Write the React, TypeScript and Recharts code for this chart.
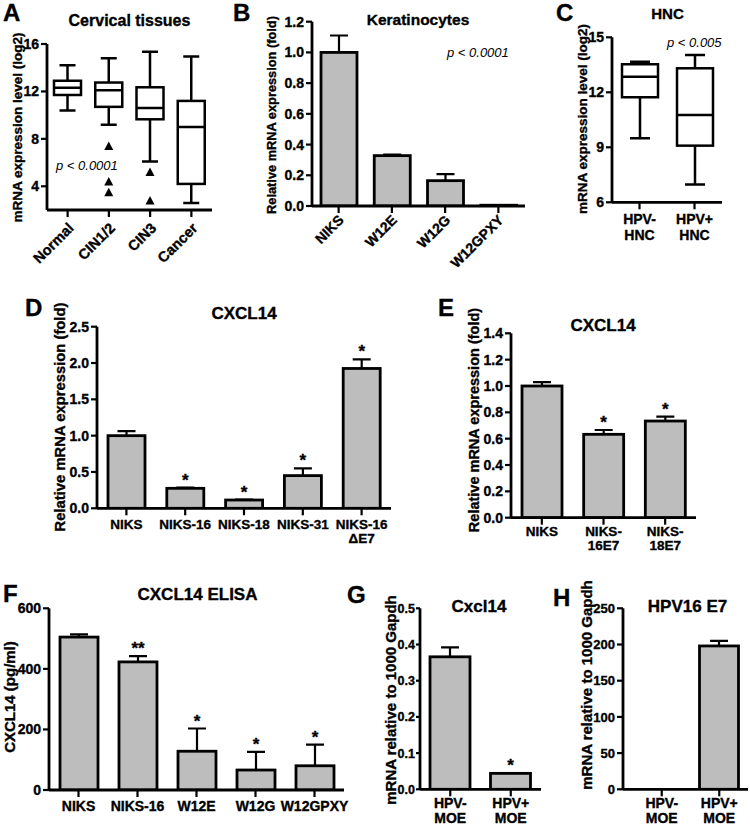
import React from 'react';
import { BarChart, Bar, XAxis, YAxis } from 'recharts';

const FONT = '"Liberation Sans", Arial, Helvetica, sans-serif';
const GRAY = '#bdbdbd';
const W = 750;
const H = 827;

// ---------- Panel A: Cervical tissues (box plot) ----------
const cervicalCats = ['Normal', 'CIN1/2', 'CIN3', 'Cancer'];
const cervicalMin = [10.4, 9.2, 6.1, 2.6];
const cervicalQ1 = [11.7, 10.7, 9.65, 4.2];
const cervicalMedian = [12.3, 12.1, 10.6, 9.0];
const cervicalQ3 = [12.9, 12.75, 12.35, 11.2];
const cervicalMax = [14.2, 14.8, 15.35, 14.95];
const cervicalOutliers = [[], [7.4, 4.4, 3.5], [5.2, 2.8], []];
const cervicalTicks = [4, 8, 12, 16];

// ---------- Panel B: Keratinocytes ----------
const keraCats = ['NIKS', 'W12E', 'W12G', 'W12GPXY'];
const keraMean = [1.0, 0.328, 0.165, 0.005];
const keraErr = [0.11, 0.007, 0.043, 0];
const keraTicks = [0, 0.2, 0.4, 0.6, 0.8, 1.0, 1.2];

// ---------- Panel C: HNC (box plot) ----------
const hncCats = ['HPV-\nHNC', 'HPV+\nHNC'];
const hncMin = [9.5, 6.97];
const hncQ1 = [11.73, 9.09];
const hncMedian = [12.85, 10.76];
const hncQ3 = [13.53, 13.31];
const hncMax = [13.67, 14.03];
const hncTicks = [6, 9, 12, 15];

// ---------- Panel D: CXCL14 ----------
const dCats = ['NIKS', 'NIKS-16', 'NIKS-18', 'NIKS-31', 'NIKS-16\n\u0394E7'];
const dMean = [1.0, 0.275, 0.114, 0.45, 1.925];
const dErr = [0.063, 0.01, 0.005, 0.1, 0.125];
const dStars = ['', '*', '*', '*', '*'];
const dTicks = [0, 0.5, 1.0, 1.5, 2.0, 2.5];

// ---------- Panel E: CXCL14 ----------
const eCats = ['NIKS', 'NIKS-\n16E7', 'NIKS-\n18E7'];
const eMean = [1.0, 0.633, 0.734];
const eErr = [0.03, 0.033, 0.033];
const eStars = ['', '*', '*'];
const eTicks = [0, 0.2, 0.4, 0.6, 0.8, 1.0, 1.2, 1.4];

// ---------- Panel F: CXCL14 ELISA ----------
const fCats = ['NIKS', 'NIKS-16', 'W12E', 'W12G', 'W12GPXY'];
const fMean = [505, 423, 128, 66, 80];
const fErr = [9, 19, 75, 60, 70];
const fStars = ['', '**', '*', '*', '*'];
const fTicks = [0, 200, 400, 600];

// ---------- Panel G: Cxcl14 ----------
const moeCats = ['HPV-\nMOE', 'HPV+\nMOE'];
const gMean = [0.366, 0.044];
const gErr = [0.026, 0];
const gStars = ['', '*'];
const gTicks = [0, 0.1, 0.2, 0.3, 0.4, 0.5];

// ---------- Panel H: HPV16 E7 ----------
const hMean = [0, 198];
const hErr = [0, 7];
const hStars = ['', ''];
const hTicks = [0, 50, 100, 150, 200, 250];

const barRows = (cats: string[], mean: number[], err: number[], stars: string[]) =>
  cats.map((name, i) => ({ name, mean: mean[i], err: err[i], star: stars[i] }));

const boxRows = (cats: string[], mn: number[], q1: number[], med: number[], q3: number[], mx: number[], out: number[][]) =>
  cats.map((name, i) => ({ name, box: [q1[i], q3[i]], q1: q1[i], q3: q3[i], min: mn[i], med: med[i], max: mx[i], outliers: out[i] }));

const dataA = boxRows(cervicalCats, cervicalMin, cervicalQ1, cervicalMedian, cervicalQ3, cervicalMax, cervicalOutliers);
const dataB = barRows(keraCats, keraMean, keraErr, ['', '', '', '']);
const dataC = boxRows(hncCats, hncMin, hncQ1, hncMedian, hncQ3, hncMax, [[], []]);
const dataD = barRows(dCats, dMean, dErr, dStars);
const dataE = barRows(eCats, eMean, eErr, eStars);
const dataF = barRows(fCats, fMean, fErr, fStars);
const dataG = barRows(moeCats, gMean, gErr, gStars);
const dataH = barRows(moeCats, hMean, hErr, hStars);

const BOLD_STROKE = { stroke: '#000', strokeWidth: 0.35 };

const makeBarShape = (capW: number) => (props: any) => {
  const { x, y, width, height } = props;
  const p = props.payload ?? props;
  const v = p.mean;
  const top = Math.min(y, y + height);
  const h = Math.abs(height);
  const ratio = v > 0 ? h / v : 0;
  const errTop = top - p.err * ratio;
  const cx = x + width / 2;
  return (
    <g>
      {p.err > 0 && (
        <g>
          <line x1={cx} x2={cx} y1={top} y2={errTop} stroke="#000" strokeWidth={2.2} />
          <line x1={cx - capW / 2} x2={cx + capW / 2} y1={errTop} y2={errTop} stroke="#000" strokeWidth={2.2} />
        </g>
      )}
      {v > 0 && <rect x={x} y={top} width={width} height={h} fill={GRAY} stroke="#000" strokeWidth={2.8} />}
      {p.star ? (
        <text x={cx} y={errTop - 2} textAnchor="middle" fontFamily={FONT} fontWeight="bold" fontSize={17} fill="#000" {...BOLD_STROKE}>
          {p.star}
        </text>
      ) : null}
    </g>
  );
};

const makeBoxShape = (capW: number) => (props: any) => {
  const { x, y, width, height } = props;
  const p = props.payload ?? props;
  const top = Math.min(y, y + height);
  const h = Math.abs(height);
  const ratio = h / (p.q3 - p.q1);
  const py = (v: number) => top + (p.q3 - v) * ratio;
  const cx = x + width / 2;
  const sw = 2.5;
  return (
    <g>
      <line x1={cx} x2={cx} y1={py(p.max)} y2={top} stroke="#000" strokeWidth={sw} />
      <line x1={cx} x2={cx} y1={top + h} y2={py(p.min)} stroke="#000" strokeWidth={sw} />
      <line x1={cx - capW / 2} x2={cx + capW / 2} y1={py(p.max)} y2={py(p.max)} stroke="#000" strokeWidth={sw} />
      <line x1={cx - capW / 2} x2={cx + capW / 2} y1={py(p.min)} y2={py(p.min)} stroke="#000" strokeWidth={sw} />
      <rect x={x} y={top} width={width} height={h} fill="#fff" stroke="#000" strokeWidth={sw} />
      <line x1={x} x2={x + width} y1={py(p.med)} y2={py(p.med)} stroke="#000" strokeWidth={sw} />
      {(p.outliers || []).map((o: number, i: number) => {
        const oy = py(o);
        return <path key={i} d={`M${cx - 4.5},${oy + 4} L${cx + 4.5},${oy + 4} L${cx},${oy - 4.5} Z`} fill="#000" />;
      })}
    </g>
  );
};

const makeRotTick = (axisY: number, dx: number, dy: number, fs: number) => (props: any) => {
  const tx = props.x + dx;
  const ty = axisY + dy;
  return (
    <text x={tx} y={ty} transform={`rotate(-45 ${tx} ${ty})`} textAnchor="end" fontFamily={FONT} fontWeight="bold" fontSize={fs} fill="#000" {...BOLD_STROKE}>
      {props.payload.value}
    </text>
  );
};

const makeLinesTick = (axisY: number, base: number, lh: number, fs: number) => (props: any) => {
  const lines = String(props.payload.value).split('\n');
  return (
    <text x={props.x} y={axisY + base} textAnchor="middle" fontFamily={FONT} fontWeight="bold" fontSize={fs} fill="#000" {...BOLD_STROKE}>
      {lines.map((l, i) => (
        <tspan key={i} x={props.x} dy={i ? lh : 0}>
          {l}
        </tspan>
      ))}
    </text>
  );
};

type Plot = { left: number; right: number; top: number; bottom: number };

function Panel(props: {
  plot: Plot;
  data: any[];
  dataKey: string;
  shape: any;
  barSize: number;
  domain: [number, number];
  ticks: number[];
  fmt?: (v: number) => string;
  xTick: any;
  padding?: { left: number; right: number };
  yFont?: number;
  yTickSize?: number;
  yTickMargin?: number;
}) {
  const { plot, data, dataKey, shape, barSize, domain, ticks, fmt, xTick, padding, yFont, yTickSize, yTickMargin } = props;
  const yw = 50;
  const xh = 40;
  const axisStyle = { stroke: '#000', strokeWidth: 2.8 };
  const tickLineStyle = { stroke: '#000', strokeWidth: 2.2 };
  return (
    <div style={{ position: 'absolute', left: 0, top: 0 }}>
      <BarChart
        width={W}
        height={H}
        data={data}
        margin={{ top: plot.top, left: plot.left - yw, right: W - plot.right, bottom: H - plot.bottom - xh }}
        barCategoryGap={0}
      >
        <XAxis
          dataKey="name"
          interval={0}
          height={xh}
          tick={xTick}
          tickSize={7}
          tickLine={tickLineStyle}
          axisLine={axisStyle}
          padding={padding || { left: 0, right: 0 }}
        />
        <YAxis
          type="number"
          domain={domain}
          ticks={ticks}
          interval={0}
          allowDataOverflow
          width={yw}
          tickSize={yTickSize ?? 6}
          tickMargin={yTickMargin ?? 2}
          tickLine={tickLineStyle}
          axisLine={axisStyle}
          tickFormatter={fmt}
          tick={{ fill: '#000', fontSize: yFont || 14, fontWeight: 'bold', fontFamily: FONT, ...BOLD_STROKE }}
        />
        <Bar dataKey={dataKey} barSize={barSize} shape={shape} isAnimationActive={false} />
      </BarChart>
    </div>
  );
}

const f1 = (v: number) => v.toFixed(1);

const pA: Plot = { left: 47, right: 212, top: 44, bottom: 210 };
const pB: Plot = { left: 312, right: 525, top: 21.7, bottom: 206 };
const pC: Plot = { left: 612, right: 722, top: 37.3, bottom: 202.3 };
const pD: Plot = { left: 97, right: 391, top: 326.7, bottom: 508.3 };
const pE: Plot = { left: 511, right: 696, top: 333.3, bottom: 517.7 };
const pF: Plot = { left: 49, right: 344, top: 608.3, bottom: 790 };
const pG: Plot = { left: 420, right: 541, top: 608.3, bottom: 789.3 };
const pH: Plot = { left: 623, right: 748, top: 608.3, bottom: 789.3 };

const txt = { fontFamily: FONT, fontWeight: 'bold' as const, fill: '#000', ...BOLD_STROKE };

function Overlay() {
  const letters: [string, number, number][] = [
    ['A', 3, 21],
    ['B', 233, 21],
    ['C', 556, 21],
    ['D', 25, 316],
    ['E', 438, 316],
    ['F', 3, 602],
    ['G', 347, 603],
    ['H', 553, 606],
  ];
  const titles: [string, number, number, number][] = [
    ['Cervical tissues', 129.5, 26, 16],
    ['Keratinocytes', 418, 25, 15.5],
    ['HNC', 667.5, 18.5, 15],
    ['CXCL14', 244, 319, 17],
    ['CXCL14', 603, 331, 17],
    ['CXCL14 ELISA', 197.5, 600, 17],
    ['Cxcl14', 479, 611.5, 17],
    ['HPV16 E7', 687.5, 611.5, 17],
  ];
  const ylabels: [string, number, number, number][] = [
    ['mRNA expression level (log2)', 22, 127.5, 13.5],
    ['Relative mRNA expression (fold)', 276, 115, 12.8],
    ['mRNA expression level (log2)', 587, 119, 13.5],
    ['Relative mRNA expression (fold)', 65, 417, 14.8],
    ['Relative mRNA expression (fold)', 479, 420, 14.5],
    ['CXCL14 (pg/ml)', 15, 697, 15],
    ['mRNA relative to 1000 Gapdh', 396, 700, 15],
    ['mRNA relative to 1000 Gapdh', 592, 685, 15],
  ];
  const pvals: [string, number, number][] = [
    ['p < 0.0001', 56, 170],
    ['p < 0.0001', 447, 57],
    ['p < 0.005', 667, 47],
  ];
  return (
    <svg width={W} height={H} style={{ position: 'absolute', left: 0, top: 0, pointerEvents: 'none' }}>
      {letters.map(([t, x, y], i) => (
        <text key={'l' + i} x={x} y={y} fontSize={24} {...txt}>
          {t}
        </text>
      ))}
      {titles.map(([t, x, y, s], i) => (
        <text key={'t' + i} x={x} y={y} fontSize={s} textAnchor="middle" {...txt}>
          {t}
        </text>
      ))}
      {ylabels.map(([t, x, y, s], i) => (
        <text key={'y' + i} x={x} y={y} fontSize={s} textAnchor="middle" transform={`rotate(-90 ${x} ${y})`} {...txt}>
          {t}
        </text>
      ))}
      {pvals.map(([t, x, y], i) => (
        <text key={'p' + i} x={x} y={y} fontSize={13} fontStyle="italic" fontFamily={FONT} fill="#000">
          {t}
        </text>
      ))}
    </svg>
  );
}

export default function App() {
  return (
    <div style={{ position: 'absolute', left: 0, top: 0, width: W, height: H, background: '#fff' }}>
      <Panel plot={pA} data={dataA} dataKey="box" shape={makeBoxShape(16)} barSize={27} domain={[2, 16]} ticks={cervicalTicks} xTick={makeRotTick(pA.bottom, 7, 19, 14.5)} />
      <Panel plot={pB} data={dataB} dataKey="mean" shape={makeBarShape(18)} barSize={36} domain={[0, 1.2]} ticks={keraTicks} fmt={f1} xTick={makeRotTick(pB.bottom, 6, 15, 14)} />
      <Panel plot={pC} data={dataC} dataKey="box" shape={makeBoxShape(20)} barSize={36} domain={[6, 15]} ticks={hncTicks} xTick={makeLinesTick(pC.bottom, 22, 16, 14)} />
      <Panel plot={pD} data={dataD} dataKey="mean" shape={makeBarShape(18)} barSize={37} domain={[0, 2.5]} ticks={dTicks} fmt={f1} xTick={makeLinesTick(pD.bottom, 21, 14, 13.5)} />
      <Panel plot={pE} data={dataE} dataKey="mean" shape={makeBarShape(18)} barSize={40} domain={[0, 1.4]} ticks={eTicks} fmt={f1} xTick={makeLinesTick(pE.bottom, 18.5, 14, 13.5)} />
      <Panel plot={pF} data={dataF} dataKey="mean" shape={makeBarShape(18)} barSize={38} domain={[0, 600]} ticks={fTicks} xTick={makeLinesTick(pF.bottom, 21, 14, 14)} />
      <Panel plot={pG} data={dataG} dataKey="mean" shape={makeBarShape(18)} barSize={40} domain={[0, 0.5]} ticks={gTicks} fmt={f1} yFont={12.5} yTickSize={4} yTickMargin={1} xTick={makeLinesTick(pG.bottom, 19, 15, 14)} />
      <Panel plot={pH} data={dataH} dataKey="mean" shape={makeBarShape(18)} barSize={39} domain={[0, 250]} ticks={hTicks} yFont={13} padding={{ left: 10, right: 0 }} xTick={makeLinesTick(pH.bottom, 19, 15, 14)} />
      <Overlay />
    </div>
  );
}
